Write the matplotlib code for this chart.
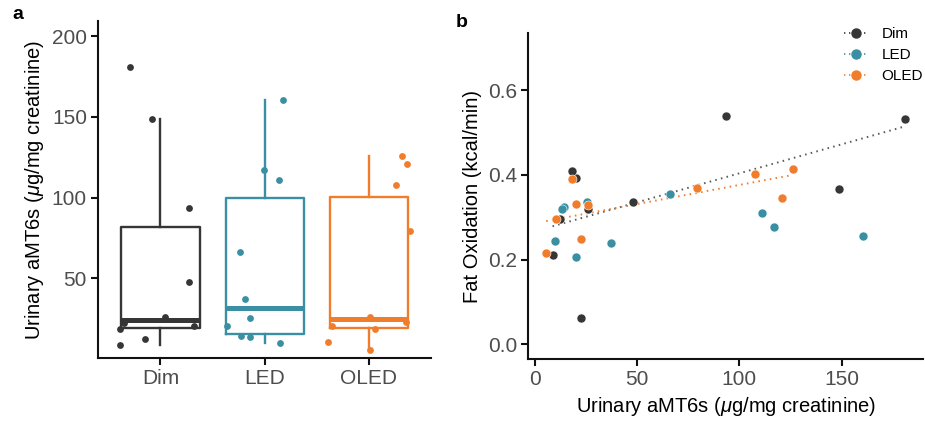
import numpy as np
import matplotlib
matplotlib.use("Agg")
import matplotlib.pyplot as plt
from matplotlib.lines import Line2D

plt.rcParams['font.family'] = ['Liberation Sans', 'DejaVu Sans']
plt.rcParams['mathtext.fontset'] = 'custom'
plt.rcParams['mathtext.it'] = 'Liberation Sans:italic'
plt.rcParams['mathtext.rm'] = 'Liberation Sans'

# data
groups = ["Dim", "LED", "OLED"]
colors = {"Dim": "#363636", "LED": "#3a8fa2", "OLED": "#f07d2c"}

amt6s_dim = [181.0, 148.7, 93.3, 47.9, 25.8, 22.5, 20.2, 18.4, 12.4, 8.7]
fatox_dim = [0.532, 0.366, 0.539, 0.337, 0.319, 0.061, 0.392, 0.409, 0.296, 0.211]
jitter_dim = [-0.29, -0.08, 0.27, 0.27, 0.04, -0.35, 0.32, -0.39, -0.15, -0.39]

amt6s_led = [160.4, 116.8, 111.0, 66.1, 37.3, 25.4, 20.2, 14.1, 13.3, 10.0]
fatox_led = [0.257, 0.277, 0.309, 0.356, 0.240, 0.337, 0.207, 0.324, 0.319, 0.245]
jitter_led = [0.18, -0.01, 0.14, -0.24, -0.19, -0.14, -0.36, -0.23, -0.14, 0.15]

amt6s_oled = [126.0, 120.7, 107.7, 79.1, 26.2, 22.8, 20.2, 18.4, 10.3, 5.6]
fatox_oled = [0.415, 0.346, 0.403, 0.370, 0.330, 0.249, 0.331, 0.390, 0.296, 0.216]
jitter_oled = [0.32, 0.37, 0.26, 0.40, 0.01, 0.36, -0.35, 0.06, -0.39, 0.01]

amt6s = {"Dim": amt6s_dim, "LED": amt6s_led, "OLED": amt6s_oled}
fatox = {"Dim": fatox_dim, "LED": fatox_led, "OLED": fatox_oled}
jitter = {"Dim": jitter_dim, "LED": jitter_led, "OLED": jitter_oled}
fit_groups = ["Dim", "OLED"]  # regression lines shown

fig = plt.figure(figsize=(9.25, 4.25), dpi=100)
ax1 = fig.add_axes([0.106, 0.1576, 0.36, 0.793])
ax2 = fig.add_axes([0.571, 0.155, 0.427, 0.767])

tick_col = "#4d4d4d"
ylab = r"Urinary aMT6s ($\mathit{\mu}$g/mg creatinine)"

# panel a: boxplots + jittered points
for i, g in enumerate(groups):
    pos = i + 1
    ax1.boxplot([amt6s[g]], positions=[pos], widths=0.75, whis=1.5,
                showfliers=False, patch_artist=False,
                boxprops=dict(color=colors[g], linewidth=1.7),
                whiskerprops=dict(color=colors[g], linewidth=1.7),
                capprops=dict(linewidth=0),
                medianprops=dict(color=colors[g], linewidth=3.6, solid_capstyle="butt"))
    ax1.scatter(pos + np.array(jitter[g]), amt6s[g], s=24, color=colors[g],
                zorder=3, linewidths=0)

ax1.set_xlim(0.4, 3.6)
ax1.set_ylim(0.5, 209.5)
ax1.set_xticks([1, 2, 3])
ax1.set_xticklabels(groups)
ax1.set_yticks([50, 100, 150, 200])
ax1.set_ylabel(ylab, fontsize=14.5, labelpad=4)

# panel b: scatter + linear fits
for g in groups:
    ax2.scatter(amt6s[g], fatox[g], s=42, color=colors[g], zorder=3,
                edgecolors="white", linewidths=0.4)
for g in fit_groups:
    x = np.array(amt6s[g])
    y = np.array(fatox[g])
    k, b = np.polyfit(x, y, 1)
    xs = np.array([x.min(), x.max()])
    ax2.plot(xs, k * xs + b, linestyle=(0, (0.8, 2.2)), linewidth=1.4,
             color="#5a5a5a" if g == "Dim" else colors[g], zorder=2)

ax2.set_xlim(-3.2, 189.8)
ax2.set_ylim(-0.035, 0.735)
ax2.set_xticks([0, 50, 100, 150])
ax2.set_yticks([0.0, 0.2, 0.4, 0.6])
ax2.set_yticklabels(["0.0", "0.2", "0.4", "0.6"])
ax2.set_xlabel(ylab, fontsize=14.5, labelpad=4)
ax2.set_ylabel("Fat Oxidation (kcal/min)", fontsize=14.5, labelpad=4)

handles = [Line2D([0], [0], color=colors[g], marker="o", markersize=6.5,
                  linestyle=(0, (0.8, 2.2)), linewidth=1.2) for g in groups]
ax2.legend(handles, groups, loc="upper right", bbox_to_anchor=(1.035, 1.06),
           frameon=False, fontsize=11, handlelength=1.6, handletextpad=0.9,
           labelspacing=0.45)

for ax in (ax1, ax2):
    for s in ("top", "right"):
        ax.spines[s].set_visible(False)
    for s in ("left", "bottom"):
        ax.spines[s].set_linewidth(1.5)
        ax.spines[s].set_color("#111111")
    ax.tick_params(width=1.5, length=5, color="#111111", labelcolor=tick_col,
                   labelsize=15, pad=3)

fig.text(0.013, 0.965, "a", fontsize=14, fontweight="bold", va="center")
fig.text(0.493, 0.948, "b", fontsize=14, fontweight="bold", va="center")

fig.savefig("out.png", dpi=100)
